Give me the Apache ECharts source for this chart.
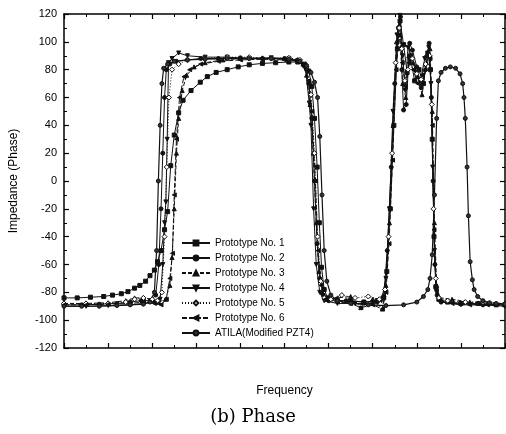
<!DOCTYPE html>
<html>
<head>
<meta charset="utf-8">
<script src="https://cdn.jsdelivr.net/npm/echarts@6/dist/echarts.min.js"></script>
<style>
html,body{margin:0;padding:0;background:#fff;}
#chart{width:506px;height:434px;}
</style>
</head>
<body>
<div id="chart"></div>
<script>
// frequency axis has no labels in the original, so arbitrary units 0..10
var seriesNames = ['Prototype No. 1','Prototype No. 2','Prototype No. 3','Prototype No. 4','Prototype No. 5','Prototype No. 6','ATILA(Modified PZT4)'];
var yTicks = [-120,-100,-80,-60,-40,-20,0,20,40,60,80,100,120];

var p1 = [[0,-84],[0.3,-84],[0.6,-83.5],[0.9,-83],[1.1,-82],[1.3,-81],[1.45,-79.5],[1.6,-77],[1.72,-75],[1.85,-72],[1.95,-68],[2.05,-64],[2.12,-58],[2.2,-50],[2.28,-35],[2.35,-22],[2.42,11],[2.5,33],[2.6,49],[2.7,58],[2.88,65],[3.09,71],[3.25,75],[3.45,78],[3.7,80],[3.95,82],[4.2,83.5],[4.5,84.5],[4.8,85],[5.1,85.5],[5.3,85.5],[5.45,84],[5.55,79],[5.62,68],[5.68,45],[5.74,10],[5.79,-30],[5.84,-62],[5.9,-78],[5.98,-84],[6.2,-86],[6.5,-86],[6.8,-87],[7.1,-86],[7.25,-84],[7.32,-65],[7.4,-20],[7.48,40],[7.56,95],[7.62,115],[7.7,98],[7.78,78],[7.86,88],[7.95,72],[8.05,80],[8.15,70],[8.25,92],[8.31,80],[8.35,30],[8.39,-40],[8.43,-76],[8.5,-85],[8.7,-87],[9.0,-88],[9.4,-88],[9.8,-89],[10,-89]];
var p2 = [[0,-89],[0.4,-89],[0.8,-88.5],[1.2,-88],[1.5,-87],[1.75,-86],[1.95,-86],[2.08,-82],[2.15,-60],[2.2,-20],[2.24,20],[2.28,60],[2.32,80],[2.4,84],[2.55,86],[2.8,87],[3.1,88],[3.5,88],[4.0,88.5],[4.5,88],[5.0,88],[5.3,87],[5.45,83],[5.55,70],[5.62,45],[5.68,0],[5.74,-45],[5.8,-70],[5.88,-82],[6.0,-86],[6.4,-86],[6.8,-87],[7.1,-87],[7.25,-83],[7.33,-50],[7.42,10],[7.5,70],[7.58,110],[7.63,118],[7.66,80],[7.7,51],[7.76,55],[7.84,99],[7.9,94],[8.0,82],[8.1,67],[8.2,80],[8.28,99],[8.33,60],[8.37,0],[8.41,-60],[8.46,-82],[8.55,-87],[9.0,-88],[9.5,-89],[10,-89]];
var p3 = [[0,-88],[0.5,-88],[1.0,-87.5],[1.4,-86],[1.6,-84],[1.8,-84],[2.0,-85],[2.15,-87],[2.3,-85],[2.4,-75],[2.45,-55],[2.5,-20],[2.55,20],[2.6,45],[2.68,65],[2.78,76],[2.95,82],[3.2,85],[3.6,87],[4.0,88],[4.5,88.5],[5.0,88],[5.3,87],[5.42,84],[5.5,76],[5.58,55],[5.65,20],[5.72,-30],[5.78,-65],[5.86,-80],[5.95,-85],[6.2,-84],[6.5,-83],[6.73,-91],[7.0,-85],[7.22,-92],[7.3,-75],[7.38,-30],[7.46,40],[7.54,100],[7.6,112],[7.68,70],[7.75,60],[7.82,90],[7.92,85],[8.02,75],[8.12,62],[8.22,85],[8.3,95],[8.35,50],[8.4,-30],[8.45,-75],[8.52,-84],[8.8,-85],[9.2,-87],[9.6,-88],[10,-88]];
var p4 = [[0,-90],[0.5,-90],[1.0,-89.5],[1.5,-89],[1.8,-88],[2.05,-87],[2.18,-85],[2.24,-60],[2.28,-30],[2.31,-15],[2.34,30],[2.37,85],[2.45,88],[2.6,92],[2.8,90],[3.2,89],[3.7,89],[4.2,88],[4.7,88.5],[5.1,88],[5.35,86],[5.48,80],[5.56,56],[5.6,40],[5.66,-20],[5.72,-60],[5.8,-80],[5.9,-86],[6.2,-88],[6.6,-88],[7.0,-88],[7.2,-86],[7.3,-70],[7.38,-20],[7.46,50],[7.55,105],[7.62,119],[7.68,90],[7.74,65],[7.8,96],[7.88,90],[7.98,78],[8.08,72],[8.18,88],[8.27,96],[8.32,70],[8.36,10],[8.4,-50],[8.45,-80],[8.55,-87],[9.0,-89],[9.5,-89],[10,-90]];
var p5 = [[0,-88],[0.5,-88],[1.0,-88],[1.4,-87],[1.6,-85],[1.8,-84],[2.0,-85],[2.12,-86],[2.22,-80],[2.28,-40],[2.33,10],[2.38,60],[2.45,80],[2.6,84],[2.8,87],[3.2,88],[3.7,89],[4.2,89],[4.7,88],[5.1,88.5],[5.35,87],[5.5,82],[5.6,62],[5.68,20],[5.75,-40],[5.82,-72],[5.9,-84],[6.05,-85],[6.3,-82],[6.6,-84],[6.9,-83],[7.15,-85],[7.28,-78],[7.36,-40],[7.44,20],[7.52,85],[7.6,110],[7.66,95],[7.73,72],[7.8,80],[7.9,88],[8.0,77],[8.1,73],[8.2,84],[8.29,90],[8.34,55],[8.38,-20],[8.43,-70],[8.5,-84],[8.7,-86],[9.1,-87],[9.5,-87],[10,-88]];
var p6 = [[0,-89],[0.5,-89],[1.0,-88.5],[1.5,-88],[1.8,-87],[2.05,-88],[2.2,-89],[2.32,-85],[2.4,-70],[2.46,-52],[2.5,-10],[2.55,30],[2.62,60],[2.72,75],[2.85,80],[3.1,84],[3.5,86],[4.0,87],[4.5,87.5],[5.0,87],[5.3,86],[5.45,82],[5.55,72],[5.62,50],[5.7,0],[5.76,-50],[5.83,-75],[5.92,-85],[6.2,-87],[6.5,-88],[6.73,-91],[7.0,-89],[7.22,-92],[7.3,-80],[7.37,-45],[7.45,15],[7.53,80],[7.6,105],[7.67,85],[7.74,68],[7.82,85],[7.92,80],[8.02,70],[8.12,76],[8.22,90],[8.3,88],[8.35,40],[8.39,-35],[8.44,-78],[8.52,-86],[8.8,-88],[9.2,-89],[9.6,-89],[10,-89]];
var atila = [[0,-90],[0.4,-90],[0.8,-90],[1.2,-89.5],[1.5,-89],[1.8,-88.5],[1.95,-87],[2.05,-80],[2.1,-50],[2.14,0],[2.18,40],[2.22,70],[2.26,81],[2.35,84],[2.5,86],[2.8,87],[3.2,87.5],[3.7,88],[4.2,88],[4.7,88],[5.1,87.5],[5.35,86],[5.5,83],[5.6,78],[5.68,71],[5.75,60],[5.8,32],[5.85,-10],[5.9,-50],[5.96,-72],[6.05,-82],[6.2,-86],[6.5,-88],[6.9,-89],[7.3,-89.5],[7.7,-89],[8.0,-87],[8.15,-83],[8.25,-78],[8.3,-70],[8.35,-53],[8.4,-10],[8.45,45],[8.49,72],[8.55,78],[8.65,81],[8.76,82],[8.88,81],[8.98,77],[9.04,70],[9.07,60],[9.1,45],[9.14,10],[9.17,-25],[9.21,-58],[9.26,-71],[9.3,-78],[9.38,-83],[9.5,-86],[9.65,-87.5],[9.8,-88],[10,-88.5]];

var downTri = 'path://M0,0 L10,0 L5,9 Z';

function mkSeries(name, data, symbol, lineType, extra) {
	var s = {
		name: name,
		type: 'line',
		data: data,
		symbol: symbol,
		symbolSize: 4,
		showSymbol: true,
		lineStyle: {color:'#111', width:1, type:lineType},
		itemStyle: {color:'#111', borderColor:'#111', borderWidth:1},
		animation: false
	};
	if (extra) { for (var k in extra) s[k] = extra[k]; }
	return s;
}

var chart = echarts.init(document.getElementById('chart'));
var tickStyle = {show:true, inside:true, length:5, lineStyle:{color:'#000', width:1.2}};
var minorStyle = {show:true, splitNumber:2, length:3, lineStyle:{color:'#000', width:1}};
var lineStyle = {onZero:false, lineStyle:{color:'#000', width:1.5}};
chart.setOption({
	backgroundColor:'#fff',
	textStyle:{fontFamily:'Liberation Sans, Arial, sans-serif'},
	grid:{left:62, right:1, top:14, bottom:86},
	legend:{
		orient:'vertical', left:176, top:233,
		itemWidth:28, itemHeight:6, itemGap:5,
		textStyle:{fontSize:10, color:'#000'},
		data:seriesNames
	},
	xAxis:[
		{type:'value', min:0, max:10, interval:1, position:'bottom',
		 name:'Frequency', nameLocation:'middle', nameGap:37,
		 nameTextStyle:{fontSize:12, color:'#000'},
		 axisLine:lineStyle,
		 axisTick:tickStyle, minorTick:minorStyle,
		 axisLabel:{show:false}, splitLine:{show:false}},
		{type:'value', min:0, max:10, interval:1, position:'top',
		 axisLine:lineStyle,
		 axisTick:tickStyle, minorTick:minorStyle,
		 axisLabel:{show:false}, splitLine:{show:false}}
	],
	yAxis:[
		{type:'value', min:yTicks[0], max:yTicks[yTicks.length-1], interval:20,
		 name:'Impedance (Phase)', nameLocation:'middle', nameGap:44,
		 nameTextStyle:{fontSize:12, color:'#000'},
		 axisLine:{show:true, onZero:false, lineStyle:{color:'#000', width:1.5}},
		 axisTick:tickStyle, minorTick:minorStyle,
		 axisLabel:{fontSize:11, color:'#000', margin:7},
		 splitLine:{show:false}},
		{type:'value', min:-120, max:120, interval:20, position:'right',
		 axisLine:{show:true, onZero:false, lineStyle:{color:'#000', width:1.5}},
		 axisTick:tickStyle, minorTick:minorStyle,
		 axisLabel:{show:false}, splitLine:{show:false}}
	],
	graphic:[
		{type:'text', left:'center', top:408,
		 style:{text:'(b) Phase', font:'18px "DejaVu Serif", serif', fill:'#000'}}
	],
	series:[
		mkSeries(seriesNames[0], p1, 'rect', 'solid'),
		mkSeries(seriesNames[1], p2, 'circle', 'solid'),
		mkSeries(seriesNames[2], p3, 'triangle', [4,2]),
		mkSeries(seriesNames[3], p4, downTri, 'solid'),
		mkSeries(seriesNames[4], p5, 'diamond', [1,2], {itemStyle:{color:'#fff', borderColor:'#111', borderWidth:1}, symbolSize:5}),
		mkSeries(seriesNames[5], p6, 'triangle', [5,2], {symbolRotate:90}),
		mkSeries(seriesNames[6], atila, 'circle', 'solid', {itemStyle:{color:'#333', borderColor:'#111', borderWidth:1}, symbolSize:4, lineStyle:{color:'#111', width:1.2}})
	]
});
</script>
</body>
</html>
